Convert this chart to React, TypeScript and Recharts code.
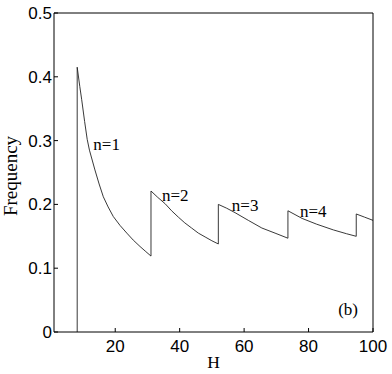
import { LineChart, Line, XAxis, YAxis, ReferenceDot } from "recharts";

// frequency branches (H, frequency)
const n1H = [8.2, 8.2, 9.0, 9.6, 10.5, 11.3, 12.0, 13.7, 15.0, 16.3, 17.8, 19.4, 21.5, 23.6, 25.6, 27.7, 29.5, 31.1];
const n1F = [0, 0.415, 0.385, 0.364, 0.33, 0.302, 0.285, 0.254, 0.232, 0.212, 0.196, 0.181, 0.167, 0.155, 0.144, 0.134, 0.126, 0.119];
const n2H = [31.1, 33.2, 35.5, 37.5, 39.6, 41.6, 43.7, 45.8, 47.9, 50.0, 52.0];
const n2F = [0.221, 0.211, 0.201, 0.19, 0.18, 0.171, 0.163, 0.155, 0.149, 0.143, 0.138];
const n3H = [52.0, 54.6, 57.2, 61.3, 65.5, 69.6, 73.6];
const n3F = [0.2, 0.194, 0.187, 0.175, 0.163, 0.155, 0.147];
const n4H = [73.6, 78.0, 82.5, 87.7, 91.8, 94.8];
const n4F = [0.19, 0.178, 0.169, 0.16, 0.154, 0.15];
const n5H = [94.8, 97.4, 100];
const n5F = [0.185, 0.18, 0.175];

const xTicks = [20, 40, 60, 80, 100];
const yTicks = [0, 0.1, 0.2, 0.3, 0.4, 0.5];

const branches = [
  [n1H, n1F],
  [n2H, n2F],
  [n3H, n3F],
  [n4H, n4F],
  [n5H, n5F],
];
const data = branches.flatMap(([hs, fs]) => hs.map((h, i) => ({ h, f: fs[i] })));

const sans = "'Liberation Sans', Arial, Helvetica, sans-serif";
const serif = "'Liberation Serif', 'Times New Roman', serif";
const tickStyle = { fill: "#000", fontSize: 17, fontFamily: sans };

const note = (txt: string) => (p: any) => (
  <text x={p.cx} y={p.cy} fontFamily={serif} fontSize={17} fill="#000">
    {txt}
  </text>
);

const xTitle = () => (
  <text x={213.5} y={368} textAnchor="middle" fontFamily={serif} fontSize={17.5} fill="#000">
    H
  </text>
);

const yTitle = () => (
  <text transform="translate(17,176) rotate(-90)" textAnchor="middle" fontFamily={serif} fontSize={19} fill="#000">
    Frequency
  </text>
);

export default function App() {
  return (
    <div style={{ position: "absolute", left: 0, top: 0, background: "#fff" }}>
      <LineChart width={392} height={374} data={data} margin={{ top: 12, right: 18, bottom: 0, left: 0 }}>
        <XAxis
          xAxisId="b"
          dataKey="h"
          type="number"
          domain={[1, 100]}
          ticks={xTicks}
          height={42}
          tickSize={-4}
          tickMargin={12}
          stroke="#000"
          tick={tickStyle}
          label={xTitle}
        />
        <XAxis xAxisId="t" orientation="top" dataKey="h" type="number" domain={[1, 100]} ticks={xTicks} height={1} tickSize={-4} tick={false} stroke="#000" />
        <YAxis
          yAxisId="l"
          type="number"
          domain={[0, 0.5]}
          ticks={yTicks}
          width={54}
          tickSize={-4}
          tickMargin={6}
          stroke="#000"
          tick={tickStyle}
          label={yTitle}
        />
        <YAxis yAxisId="r" orientation="right" type="number" domain={[0, 0.5]} ticks={yTicks} width={1} tickSize={-4} tick={false} stroke="#000" />
        <Line
          xAxisId="b"
          yAxisId="l"
          dataKey="f"
          type="linear"
          stroke="#222"
          strokeWidth={0.9}
          dot={false}
          isAnimationActive={false}
        />
        <ReferenceDot xAxisId="b" yAxisId="l" x={13.2} y={0.2845} r={0} shape={note("n=1")} />
        <ReferenceDot xAxisId="b" yAxisId="l" x={34.5} y={0.2053} r={0} shape={note("n=2")} />
        <ReferenceDot xAxisId="b" yAxisId="l" x={56.2} y={0.1897} r={0} shape={note("n=3")} />
        <ReferenceDot xAxisId="b" yAxisId="l" x={77.35} y={0.18} r={0} shape={note("n=4")} />
        <ReferenceDot xAxisId="b" yAxisId="l" x={89.2} y={0.0266} r={0} shape={note("(b)")} />
      </LineChart>
    </div>
  );
}
